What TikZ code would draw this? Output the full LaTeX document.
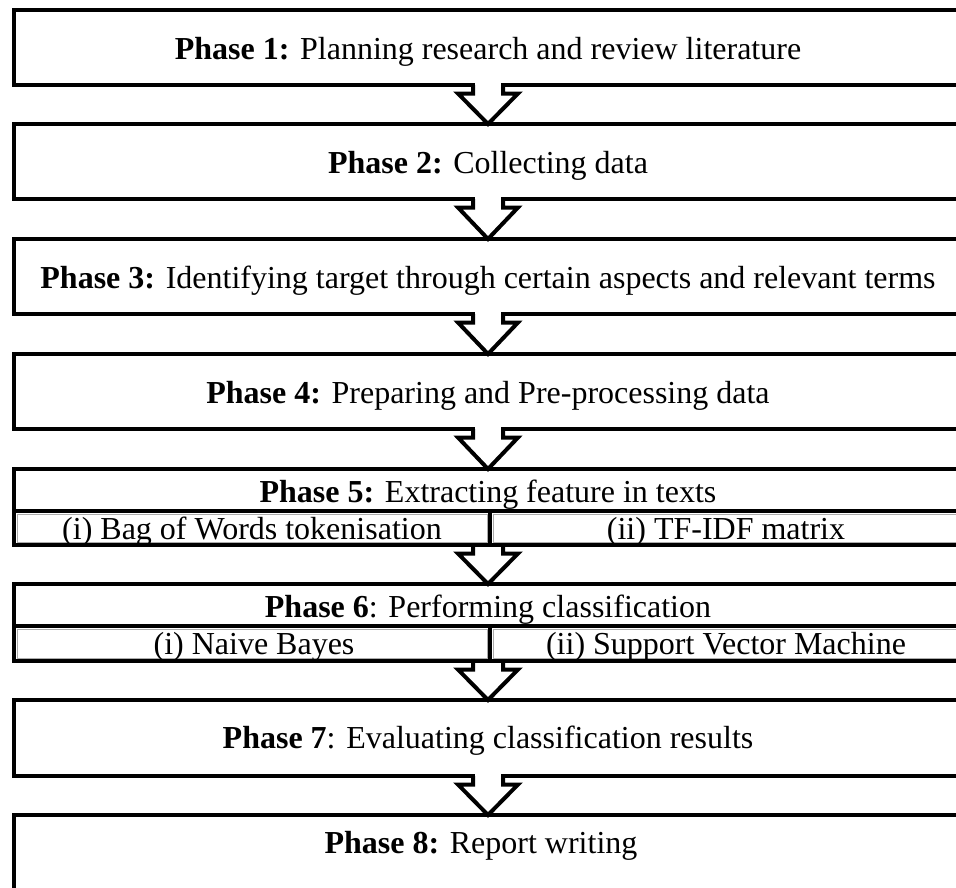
\documentclass[tikz,border=0pt]{standalone}
\usepackage{fontspec}
\setmainfont{Liberation Serif}
\usetikzlibrary{calc}
\begin{document}
\begin{tikzpicture}[x=1pt,y=-1pt,
  box/.style={draw=black, line width=4pt, line join=miter, rectangle, inner sep=0pt, outer sep=0pt, minimum width=948pt},
  cell/.style={draw=gray!65, line width=0.8pt, rectangle, inner sep=0pt, outer sep=0pt},
  divline/.style={draw=black, line width=4pt},
  lbl/.style={anchor=base, inner sep=0pt, font=\fontsize{32}{38}\selectfont},
  flow/.style={draw=black, line width=4pt, line join=miter, fill=white}]
\useasboundingbox (0,0) rectangle (956,887);
\clip (0,0) rectangle (956,887);

% main boxes
\node[box, minimum height=75pt] (b1) at (488,47.5) {};
\node[box, minimum height=75pt] (b2) at (488,161.5) {};
\node[box, minimum height=75pt] (b3) at (488,276.5) {};
\node[box, minimum height=75pt] (b4) at (488,391.5) {};
\node[box, minimum height=76pt] (b5) at (488,507) {};
\node[box, minimum height=77pt] (b6) at (488,622.5) {};
\node[box, minimum height=76pt] (b7) at (488,738) {};
\node[box, minimum height=110pt] (b8) at (488,870) {};

% sub rows of phase 5 and 6
\node[cell, minimum width=470pt, minimum height=28pt] (c5a) at (252,528) {};
\node[cell, minimum width=466pt, minimum height=28pt] (c5b) at (726,528) {};
\node[cell, minimum width=470pt, minimum height=29pt] (c6a) at (252,643.5) {};
\node[cell, minimum width=466pt, minimum height=29pt] (c6b) at (726,643.5) {};
\draw[divline] (14,511) -- (962,511);
\draw[divline] (490,511) -- (490,545);
\draw[divline] (14,626) -- (962,626);
\draw[divline] (490,626) -- (490,661);

% texts
\node[lbl] (t1) at (488,59) {\textbf{Phase 1:} Planning research and review literature};
\node[lbl] (t2) at (488,173) {\textbf{Phase 2:} Collecting data};
\node[lbl] (t3) at (488,288) {\textbf{Phase 3:} Identifying target through certain aspects and relevant terms};
\node[lbl] (t4) at (488,403) {\textbf{Phase 4:} Preparing and Pre-processing data};
\node[lbl] (t5) at (488,502) {\textbf{Phase 5:} Extracting feature in texts};
\node[lbl] (t5a) at (252,539) {(i) Bag of Words tokenisation};
\node[lbl] (t5b) at (726,539) {(ii) TF-IDF matrix};
\node[lbl] (t6) at (488,617) {\textbf{Phase 6}: Performing classification};
\node[lbl] (t6a) at (254,654) {(i) Naive Bayes};
\node[lbl] (t6b) at (726,654) {(ii) Support Vector Machine};
\node[lbl] (t7) at (488,748) {\textbf{Phase 7}: Evaluating classification results};
\node[lbl] (t8) at (481,853) {\textbf{Phase 8:} Report writing};

% block arrows (open into the box above, except below the split boxes)
\foreach \a/\b/\e in {b1/b2/1,b2/b3/1,b3/b4/1,b4/b5/1,b5/b6/0,b6/b7/0,b7/b8/1}{
  \ifnum\e=1
    \fill[white] ($(\a.south)+(-13,-2.6)$) rectangle ($(\a.south)+(13,2.6)$);
    \draw[flow] ($(\a.south)+(-15,0)$) -- ++(0,8.5) -- ++(-15,0) -- (\b.north)
       -- ($(\a.south)+(30,8.5)$) -- ++(-15,0) -- ++(0,-8.5);
  \else
    \draw[flow] ($(\a.south)+(-15,2)$) -- ++(0,6.5) -- ++(-15,0) -- (\b.north)
       -- ($(\a.south)+(30,8.5)$) -- ++(-15,0) -- ++(0,-6.5);
  \fi
}
\end{tikzpicture}
\end{document}
